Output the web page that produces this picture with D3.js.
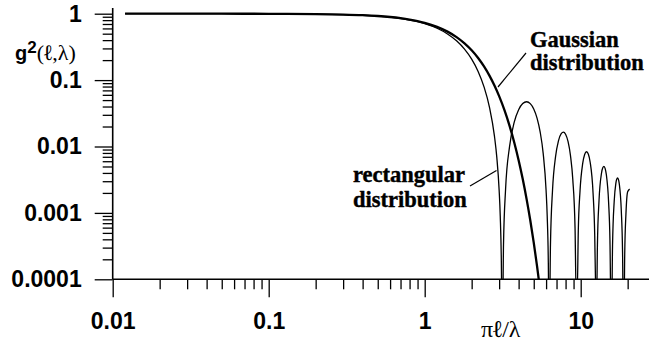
<!DOCTYPE html>
<html>
<head>
<meta charset="utf-8">
<script src="https://cdn.jsdelivr.net/npm/d3@7"></script>
<style>
  body { margin: 0; background: #fff; }
  svg { display: block; }
  .sans { font-family: "Liberation Sans", Arial, sans-serif; font-weight: bold; }
  .serif { font-family: "Liberation Serif", "Times New Roman", serif; }
</style>
</head>
<body>
<svg id="chart" width="649" height="344"></svg>
<script>
// Axis ticks and labels
const xTickValues = [0.01, 0.1, 1, 10];
const xTickLabels = ["0.01", "0.1", "1", "10"];
const yTickValues = [1, 0.1, 0.01, 0.001, 0.0001];
const yTickLabels = ["1", "0.1", "0.01", "0.001", "0.0001"];

// Rectangular distribution: g^2 versus pi*l/lambda
const rectX = [0.012, 0.05, 0.1, 0.2, 0.3, 0.4, 0.5, 0.6, 0.7, 0.8, 0.9, 1.0,
  1.2, 1.4, 1.6, 1.8, 2.0, 2.2, 2.4, 2.6, 2.8, 2.9, 3.0, 3.05, 3.1, 3.12,
  3.16, 3.2, 3.3, 3.5, 3.75, 4.0, 4.25, 4.5, 4.75, 5.0, 5.25, 5.5, 5.75, 6.0, 6.1, 6.2, 6.25,
  6.32, 6.4, 6.6, 6.9, 7.2, 7.5, 7.75, 8.0, 8.3, 8.6, 8.9, 9.2, 9.35,
  9.5, 9.65, 9.9, 10.3, 10.6, 10.9, 11.2, 11.5, 12.0, 12.3, 12.45,
  12.65, 12.8, 13.1, 13.6, 13.85, 14.1, 14.35, 14.6, 15.1, 15.4, 15.6,
  15.8, 16.0, 16.4, 16.8, 17.0, 17.25, 17.5, 17.7, 18.2, 18.55, 18.75,
  18.95, 19.15, 19.5, 20.0, 20.6];
const rectY = [1.0, 0.9992, 0.9967, 0.9868, 0.9704, 0.9477, 0.9194, 0.8855, 0.8462, 0.8041, 0.7575, 0.708,
  0.6033, 0.4955, 0.3903, 0.2927, 0.2067, 0.1351, 0.0792, 0.0393, 0.01431, 0.0068, 0.002213, 0.0009, 0.00018, 0.0000479,
  0.000034, 0.000333, 0.002284, 0.01004, 0.02324, 0.0358, 0.04435, 0.04718, 0.04426, 0.03678, 0.02677, 0.01645, 0.007815, 0.002169, 0.000892, 0.00018, 0.0000282,
  0.0000339, 0.000331, 0.002228, 0.007027, 0.01215, 0.01564, 0.01647, 0.0153, 0.01182, 0.00729, 0.003169, 0.000587, 0.0000638,
  0.0000627, 0.000535, 0.002137, 0.005555, 0.007574, 0.008341, 0.007642, 0.005795, 0.001999, 0.000459, 0.000087,
  0.000044, 0.000328, 0.00151, 0.003992, 0.004797, 0.005023, 0.004638, 0.00376, 0.001428, 0.000387, 0.000047,
  0.000034, 0.000324, 0.001514, 0.002792, 0.0032, 0.003358, 0.003109, 0.00266, 0.001102, 0.000253, 0.0000281,
  0.0000277, 0.000238, 0.000963, 0.002083, 0.002282];

// Gaussian distribution
const gaussX = [0.012, 0.05, 0.1, 0.2, 0.3, 0.4, 0.5, 0.6, 0.7, 0.8, 0.9, 1.0,
  1.2, 1.4, 1.6, 1.8, 2.0, 2.2, 2.4, 2.6, 2.8, 3.0, 3.25, 3.5, 3.75,
  4.0, 4.25, 4.5, 4.75, 5.0, 5.25, 5.5, 5.75];
const gaussY = [1.0, 0.9992, 0.9968, 0.9874, 0.9718, 0.9505, 0.9237, 0.892, 0.8559, 0.8161, 0.7733, 0.7281,
  0.633, 0.537, 0.4437, 0.3575, 0.2809, 0.2151, 0.1606, 0.1169, 0.083, 0.0574, 0.03497, 0.02047, 0.01152,
  0.00623, 0.00323, 0.001613, 0.000774, 0.000357, 0.000158, 0.0000675, 0.0000275];

const svg = d3.select("#chart");

const x = d3.scaleLog().domain([0.01, 10]).range([112.7, 580.7]);
const y = d3.scaleLog().domain([0.0001, 1]).range([279.3, 13.7]);
const xEnd = 649;

// minor ticks: 2..9 within every decade
const minorY = [];
for (let p = -4; p < 0; p++) for (let k = 2; k <= 9; k++) minorY.push(k * Math.pow(10, p));
const minorX = [];
for (let p = -2; p <= 1; p++) for (let k = 2; k <= 9; k++) {
  const v = k * Math.pow(10, p);
  if (x(v) < xEnd - 4) minorX.push(v);
}

// Y axis
const yAxisG = svg.append("g").attr("transform", `translate(${x(0.01)},0)`);
yAxisG.call(d3.axisLeft(y).tickValues(minorY).tickSize(10).tickFormat(""));
yAxisG.append("g").call(
  d3.axisLeft(y).tickValues(yTickValues).tickSize(18).tickPadding(13)
    .tickFormat((d, i) => yTickLabels[i]));
yAxisG.selectAll(".domain").remove();
yAxisG.selectAll("line").attr("stroke", "#000").attr("stroke-width", 1.3);
yAxisG.selectAll("text").attr("class", "sans")
  .style("font-size", "23px").attr("fill", "#000");
yAxisG.append("line")
  .attr("x1", 0).attr("x2", 0).attr("y1", 8).attr("y2", y(0.0001))
  .attr("stroke", "#000").attr("stroke-width", 1.6);

// X axis
const xAxisG = svg.append("g").attr("transform", `translate(0,${y(0.0001)})`);
xAxisG.call(d3.axisBottom(x).tickValues(minorX).tickSize(10).tickFormat(""));
xAxisG.append("g").call(
  d3.axisBottom(x).tickValues(xTickValues).tickSize(18).tickPadding(15)
    .tickFormat((d, i) => xTickLabels[i]));
xAxisG.selectAll(".domain").remove();
xAxisG.selectAll("line").attr("stroke", "#000").attr("stroke-width", 1.3);
xAxisG.selectAll("text").attr("class", "sans")
  .style("font-size", "23px").attr("fill", "#000");
xAxisG.append("line")
  .attr("x1", x(0.01)).attr("x2", xEnd).attr("y1", 0).attr("y2", 0)
  .attr("stroke", "#000").attr("stroke-width", 1.6);

// Curves, clipped to the plotting area
svg.append("clipPath").attr("id", "plotClip")
  .append("rect")
  .attr("x", x(0.01)).attr("y", 0)
  .attr("width", xEnd - x(0.01)).attr("height", y(0.0001));

const line = d3.line()
  .x(d => x(d[0]))
  .y(d => y(d[1]))
  .curve(d3.curveMonotoneX);

const curves = svg.append("g").attr("clip-path", "url(#plotClip)");
curves.append("path")
  .attr("d", line(rectX.map((v, i) => [v, rectY[i]])))
  .attr("fill", "none").attr("stroke", "#000").attr("stroke-width", 1.3);
curves.append("path")
  .attr("d", line(gaussX.map((v, i) => [v, gaussY[i]])))
  .attr("fill", "none").attr("stroke", "#000").attr("stroke-width", 2.3);

// Curve annotations
function label(lines, x0, baselines) {
  const t = svg.append("text").attr("class", "serif")
    .style("font-weight", "bold").style("font-size", "22.5px")
    .attr("fill", "#000").attr("stroke", "#000").attr("stroke-width", 0.4);
  lines.forEach((s, i) => t.append("tspan").attr("x", x0).attr("y", baselines[i]).text(s));
}
label(["Gaussian", "distribution"], 530, [47, 70]);
label(["rectangular", "distribution"], 353, [182, 207]);

svg.append("line").attr("x1", 526).attr("y1", 53).attr("x2", 498).attr("y2", 87)
  .attr("stroke", "#000").attr("stroke-width", 1.2);
svg.append("line").attr("x1", 470).attr("y1", 186).attr("x2", 496.5).attr("y2", 170.5)
  .attr("stroke", "#000").attr("stroke-width", 1.2);

// Axis titles
const yTitle = svg.append("text").attr("x", 15).attr("y", 59.5).attr("fill", "#000");
yTitle.append("tspan").attr("class", "sans").style("font-size", "20px").text("g");
yTitle.append("tspan").attr("class", "sans").style("font-size", "17px")
  .attr("dy", -7).text("2");
yTitle.append("tspan").attr("class", "serif").style("font-size", "22px")
  .attr("dy", 7).text("(");
yTitle.append("tspan").attr("class", "serif").style("font-size", "22px")
  .style("font-weight", "bold").text("ℓ");
yTitle.append("tspan").attr("class", "serif").style("font-size", "22px").text(",λ)");

const xTitle = svg.append("text").attr("x", 481).attr("y", 337)
  .attr("class", "serif").style("font-size", "24px").attr("fill", "#000");
xTitle.append("tspan").text("π");
xTitle.append("tspan").style("font-weight", "bold").text("ℓ");
xTitle.append("tspan").text("/λ");
</script>
</body>
</html>
